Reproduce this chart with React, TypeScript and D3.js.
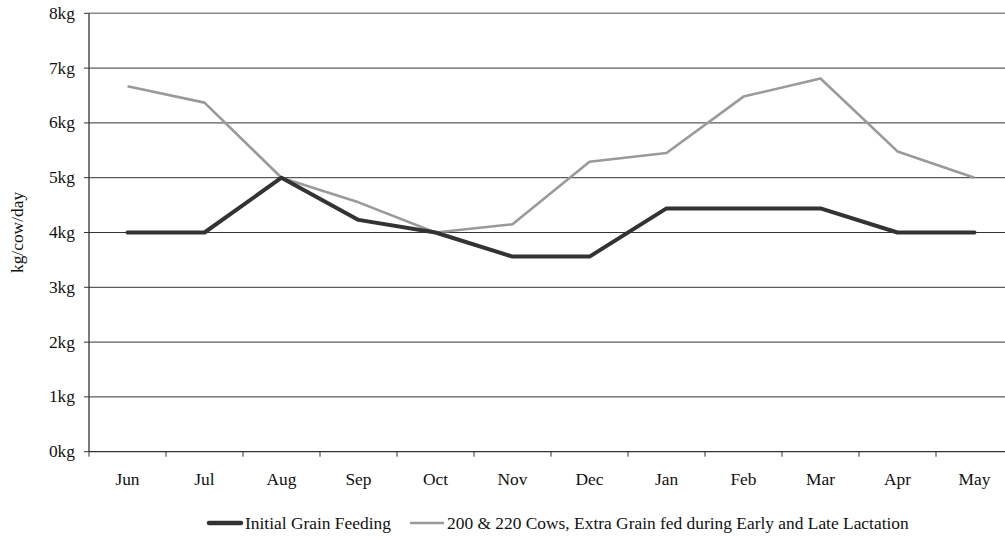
import React from "react";
import * as d3 from "d3";

const months = ["Jun", "Jul", "Aug", "Sep", "Oct", "Nov", "Dec", "Jan", "Feb", "Mar", "Apr", "May"];
const initialGrain = [4, 4, 5, 4.23, 4, 3.56, 3.56, 4.44, 4.44, 4.44, 4, 4];
const extraGrain = [6.67, 6.37, 5, 4.55, 4, 4.15, 5.29, 5.45, 6.48, 6.81, 5.48, 5];
const yTicks = [0, 1, 2, 3, 4, 5, 6, 7, 8];
const seriesNames = ["Initial Grain Feeding", "200 & 220 Cows, Extra Grain fed during Early and Late Lactation"];

const W = 1005;
const H = 539;
const left = 89;
const right = 1013;
const top = 13.3;
const bottom = 451.7;
const font = "'Liberation Serif', 'Times New Roman', serif";
const fs = 17.4;
const legendY = 523;

export default function App() {
  const x = d3.scaleBand<string>().domain(months).range([left, right]).padding(0);
  const y = d3.scaleLinear().domain([0, 8]).range([bottom, top]);
  const cx = (m: string) => (x(m) as number) + x.bandwidth() / 2;
  const line = d3
    .line<number>()
    .x((_, i) => cx(months[i]))
    .y((d) => y(d));
  const tickXs = d3.range(months.length + 1).map((i) => left + i * x.step());

  return (
    <svg
      width={W}
      height={H}
      style={{ position: "absolute", left: 0, top: 0, display: "block", background: "#fff" }}
      fontFamily={font}
    >
      {yTicks.map((t) => (
        <g key={t}>
          {t > 0 && (
            <line
              x1={left}
              x2={right}
              y1={y(t)}
              y2={y(t)}
              stroke={t === 8 ? "#8a8a8a" : "#333"}
              strokeWidth={t === 8 ? 1.5 : 1}
            />
          )}
          <line x1={left - 5} x2={left} y1={y(t)} y2={y(t)} stroke="#333" strokeWidth={1} />
          <text x={left - 14} y={y(t)} dy="0.32em" textAnchor="end" fontSize={fs} fill="#111">
            {t}kg
          </text>
        </g>
      ))}
      <line x1={left} x2={left} y1={top} y2={bottom} stroke="#333" strokeWidth={1.3} />
      <line x1={left} x2={right} y1={bottom} y2={bottom} stroke="#333" strokeWidth={1.3} />
      {tickXs.map((tx, i) => (
        <line key={i} x1={tx} x2={tx} y1={bottom} y2={bottom + 5} stroke="#333" strokeWidth={1} />
      ))}
      {months.map((m) => (
        <text key={m} x={cx(m)} y={484.5} textAnchor="middle" fontSize={fs} fill="#111">
          {m}
        </text>
      ))}
      <text
        transform={`translate(17,${(top + bottom) / 2}) rotate(-90)`}
        textAnchor="middle"
        dy="0.32em"
        fontSize={fs}
        fill="#111"
      >
        kg/cow/day
      </text>
      <path d={line(extraGrain) as string} fill="none" stroke="#9a9a9a" strokeWidth={2.6} strokeLinejoin="round" />
      <path d={line(initialGrain) as string} fill="none" stroke="#333" strokeWidth={4} strokeLinejoin="round" strokeLinecap="round" />
      <g>
        <line x1={209} x2={241} y1={legendY} y2={legendY} stroke="#333" strokeWidth={4.5} strokeLinecap="round" />
        <text x={245} y={legendY} dy="0.34em" fontSize={fs} fill="#111">
          {seriesNames[0]}
        </text>
        <line x1={410} x2={444} y1={legendY} y2={legendY} stroke="#9a9a9a" strokeWidth={2.6} />
        <text x={447} y={legendY} dy="0.34em" fontSize={fs} fill="#111">
          {seriesNames[1]}
        </text>
      </g>
    </svg>
  );
}
